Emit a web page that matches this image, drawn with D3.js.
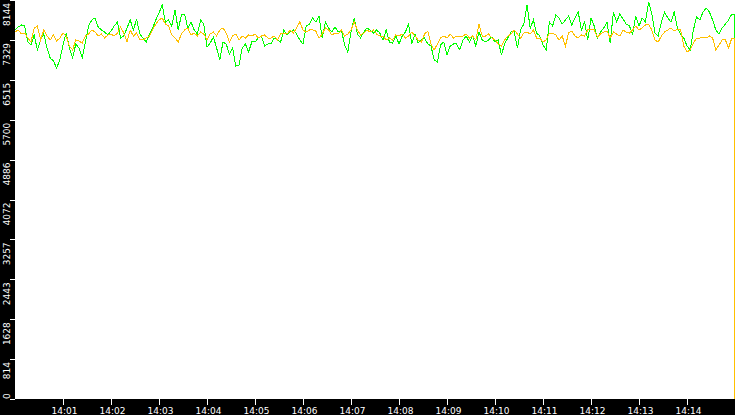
<html>
<head>
<style>
  body { margin: 0; background: #fff; }
  svg { display: block; }
  .tick text { font-family: 'DejaVu Sans', sans-serif; font-size: 9px; fill: #fff; }
</style>
</head>
<body>
<div id="chart"></div>
<script src="https://d3js.org/d3.v7.min.js"></script>
<script>

// samples every 4 s from 14:00:00, plus the last reading at 14:14:59
const sampleStart = "2020-01-01T14:00:00";
const sampleStepSec = 4;
const lastTime = "2020-01-01T14:14:59";

const greenValues = [
  7532, 7593, 7634, 7613, 7287, 7226, 7430, 7124, 7328, 7450,
  7164, 6960, 6899, 6756, 6919, 7226, 7470, 7164, 6960, 7246,
  7164, 6960, 7287, 7613, 7736, 7777, 7593, 7532, 7491, 7430,
  7511, 7613, 7695, 7368, 7409, 7573, 7736, 7532, 7756, 7450,
  7368, 7287, 7450, 7573, 7736, 7879, 8042, 7695, 7736, 7613,
  7940, 7532, 7838, 7858, 7573, 7695, 7532, 7450, 7736, 7654,
  7185, 7266, 7389, 7164, 6919, 7287, 7246, 7042, 7164, 6797,
  6817, 7164, 7246, 7083, 7287, 7287, 7368, 7409, 7205, 7246,
  7246, 7368, 7328, 7287, 7532, 7430, 7491, 7532, 7450, 7328,
  7246, 7613, 7654, 7777, 7695, 7817, 7368, 7695, 7573, 7491,
  7593, 7491, 7532, 7226, 7083, 7491, 7777, 7450, 7368, 7491,
  7573, 7532, 7470, 7532, 7470, 7328, 7532, 7287, 7266, 7409,
  7246, 7409, 7491, 7654, 7246, 7450, 7266, 7328, 7368, 7246,
  7205, 6919, 6879, 7226, 7287, 7021, 7205, 7246, 7246, 7124,
  7328, 7409, 7287, 7409, 7205, 7491, 7328, 7287, 7328, 7389,
  7287, 7328, 7021, 7246, 7368, 7491, 7491, 7164, 7532, 7654,
  8042, 7573, 7736, 7470, 7409, 7226, 7124, 7695, 7613, 7838,
  7777, 7654, 7736, 7817, 7634, 7777, 7899, 7532, 7695, 7328,
  7777, 7613, 7368, 7491, 7573, 7695, 7266, 7899, 7695, 7858,
  7756, 7654, 7613, 7450, 7817, 7613, 7777, 7695, 8103, 7858,
  7470, 7409, 7695, 7899, 7777, 7695, 7899, 7573, 7450, 7368,
  7205, 7124, 7532, 7797, 7736, 7899, 7981, 7899, 7736, 7532,
  7450, 7573, 7654, 7736, 7858,
  3590
];

const orangeValues = [
  7491, 7532, 7450, 7470, 7368, 7287, 7573, 7613, 7328, 7532,
  7409, 7328, 7430, 7307, 7368, 7470, 7409, 7205, 7124, 7328,
  7307, 7266, 7409, 7450, 7532, 7491, 7409, 7450, 7368, 7430,
  7450, 7409, 7470, 7593, 7470, 7287, 7532, 7409, 7470, 7328,
  7328, 7368, 7409, 7532, 7654, 7736, 7777, 7654, 7613, 7430,
  7368, 7287, 7450, 7532, 7573, 7430, 7470, 7409, 7491, 7450,
  7328, 7450, 7491, 7409, 7532, 7573, 7470, 7287, 7409, 7450,
  7328, 7409, 7368, 7430, 7409, 7450, 7368, 7409, 7430, 7368,
  7368, 7409, 7328, 7450, 7470, 7450, 7532, 7470, 7573, 7695,
  7532, 7491, 7532, 7532, 7511, 7368, 7450, 7573, 7532, 7430,
  7470, 7450, 7532, 7409, 7450, 7532, 7695, 7532, 7430, 7470,
  7532, 7491, 7532, 7450, 7409, 7409, 7328, 7368, 7328, 7430,
  7409, 7450, 7368, 7409, 7491, 7409, 7328, 7287, 7450, 7511,
  7246, 7124, 7246, 7368, 7409, 7368, 7450, 7368, 7409, 7409,
  7409, 7450, 7368, 7409, 7328, 7654, 7409, 7409, 7450, 7368,
  7328, 7246, 7205, 7328, 7409, 7450, 7532, 7450, 7368, 7470,
  7491, 7450, 7532, 7368, 7368, 7287, 7328, 7470, 7470, 7430,
  7328, 7409, 7205, 7470, 7511, 7409, 7368, 7430, 7409, 7532,
  7532, 7532, 7389, 7450, 7491, 7511, 7368, 7491, 7450, 7409,
  7532, 7491, 7470, 7532, 7613, 7532, 7573, 7634, 7654, 7532,
  7328, 7287, 7409, 7491, 7532, 7573, 7511, 7552, 7532, 7205,
  7083, 7124, 7266, 7368, 7368, 7389, 7368, 7409, 7368, 7124,
  7226, 7328, 7328, 7164, 7368,
  0
];

const yTickValues = [0, 814.4, 1628.8, 2443.2, 3257.6, 4072, 4886.4, 5700.8, 6515.2, 7329.6, 8144];
const xTickTimes = ["14:01", "14:02", "14:03", "14:04", "14:05", "14:06", "14:07",
  "14:08", "14:09", "14:10", "14:11", "14:12", "14:13", "14:14"];

const W = 735, H = 415;
const left = 15, bottom = 399;

const parse = d3.timeParse("%Y-%m-%dT%H:%M:%S");
const t0 = parse(sampleStart);
const tEnd = parse(lastTime);

function toSeries(vals) {
  return vals.map((v, i) => ({
    t: i === vals.length - 1 ? tEnd : d3.timeSecond.offset(t0, i * sampleStepSec),
    v: v
  }));
}
const green = toSeries(greenValues);
const orange = toSeries(orangeValues);

const x = d3.scaleTime()
  .domain([t0, parse("2020-01-01T14:15:00")])
  .range([left, W]);
const y = d3.scaleLinear()
  .domain([0, 8144])
  .range([bottom, 0]);

const svg = d3.select("#chart").append("svg")
  .attr("width", W)
  .attr("height", H);

svg.append("rect").attr("x", 0).attr("y", 0).attr("width", W).attr("height", H).attr("fill", "#fff");

const line = d3.line()
  .x(d => x(d.t))
  .y(d => y(d.v));

// last reading: held flat, then a straight drop
const drop = d3.line()
  .x(d => x(d.t))
  .y(d => y(d.v))
  .curve(d3.curveStepAfter);

[[green, "#00ff00"], [orange, "#ffc000"]].forEach(([s, col]) => {
  svg.append("path")
    .datum(s.slice(0, -1))
    .attr("fill", "none")
    .attr("stroke", col)
    .attr("stroke-width", 1)
    .attr("shape-rendering", "crispEdges")
    .attr("d", line);
  svg.append("path")
    .datum(s.slice(-2))
    .attr("fill", "none")
    .attr("stroke", col)
    .attr("stroke-width", 1)
    .attr("shape-rendering", "crispEdges")
    .attr("d", drop);
});

// black axis bands
svg.append("rect").attr("x", 0).attr("y", 0).attr("width", left).attr("height", H).attr("fill", "#000");
svg.append("rect").attr("x", 0).attr("y", bottom).attr("width", W).attr("height", H - bottom).attr("fill", "#000");

// y axis
const yTick = svg.append("g").selectAll("g")
  .data(yTickValues)
  .join("g")
    .attr("class", "tick");

yTick.append("line")
  .attr("x1", 10).attr("x2", left)
  .attr("y1", d => Math.round(y(d)) + 0.5).attr("y2", d => Math.round(y(d)) + 0.5)
  .attr("stroke", "#fff");

yTick.append("text")
  .attr("text-anchor", "end")
  .text(d => Math.floor(d))
  .attr("transform", function(d) {
    const len = this.getComputedTextLength();
    const yy = Math.min(y(d) + 3, bottom - len);
    return `translate(9.5,${yy}) rotate(-90)`;
  });

// x axis
const fmt = d3.timeFormat("%H:%M");
const xTicks = d3.timeMinute.range(t0, parse("2020-01-01T14:15:00"))
  .filter(t => xTickTimes.includes(fmt(t)));

const xTick = svg.append("g").selectAll("g")
  .data(xTicks)
  .join("g")
    .attr("class", "tick")
    .attr("transform", d => `translate(${Math.round(x(d)) + 0.5},0)`);

xTick.append("line")
  .attr("y1", bottom).attr("y2", bottom + 6)
  .attr("stroke", "#fff");

xTick.append("text")
  .attr("x", 1)
  .attr("y", 413.5)
  .attr("text-anchor", "middle")
  .text(d => fmt(d));

</script>
</body>
</html>
